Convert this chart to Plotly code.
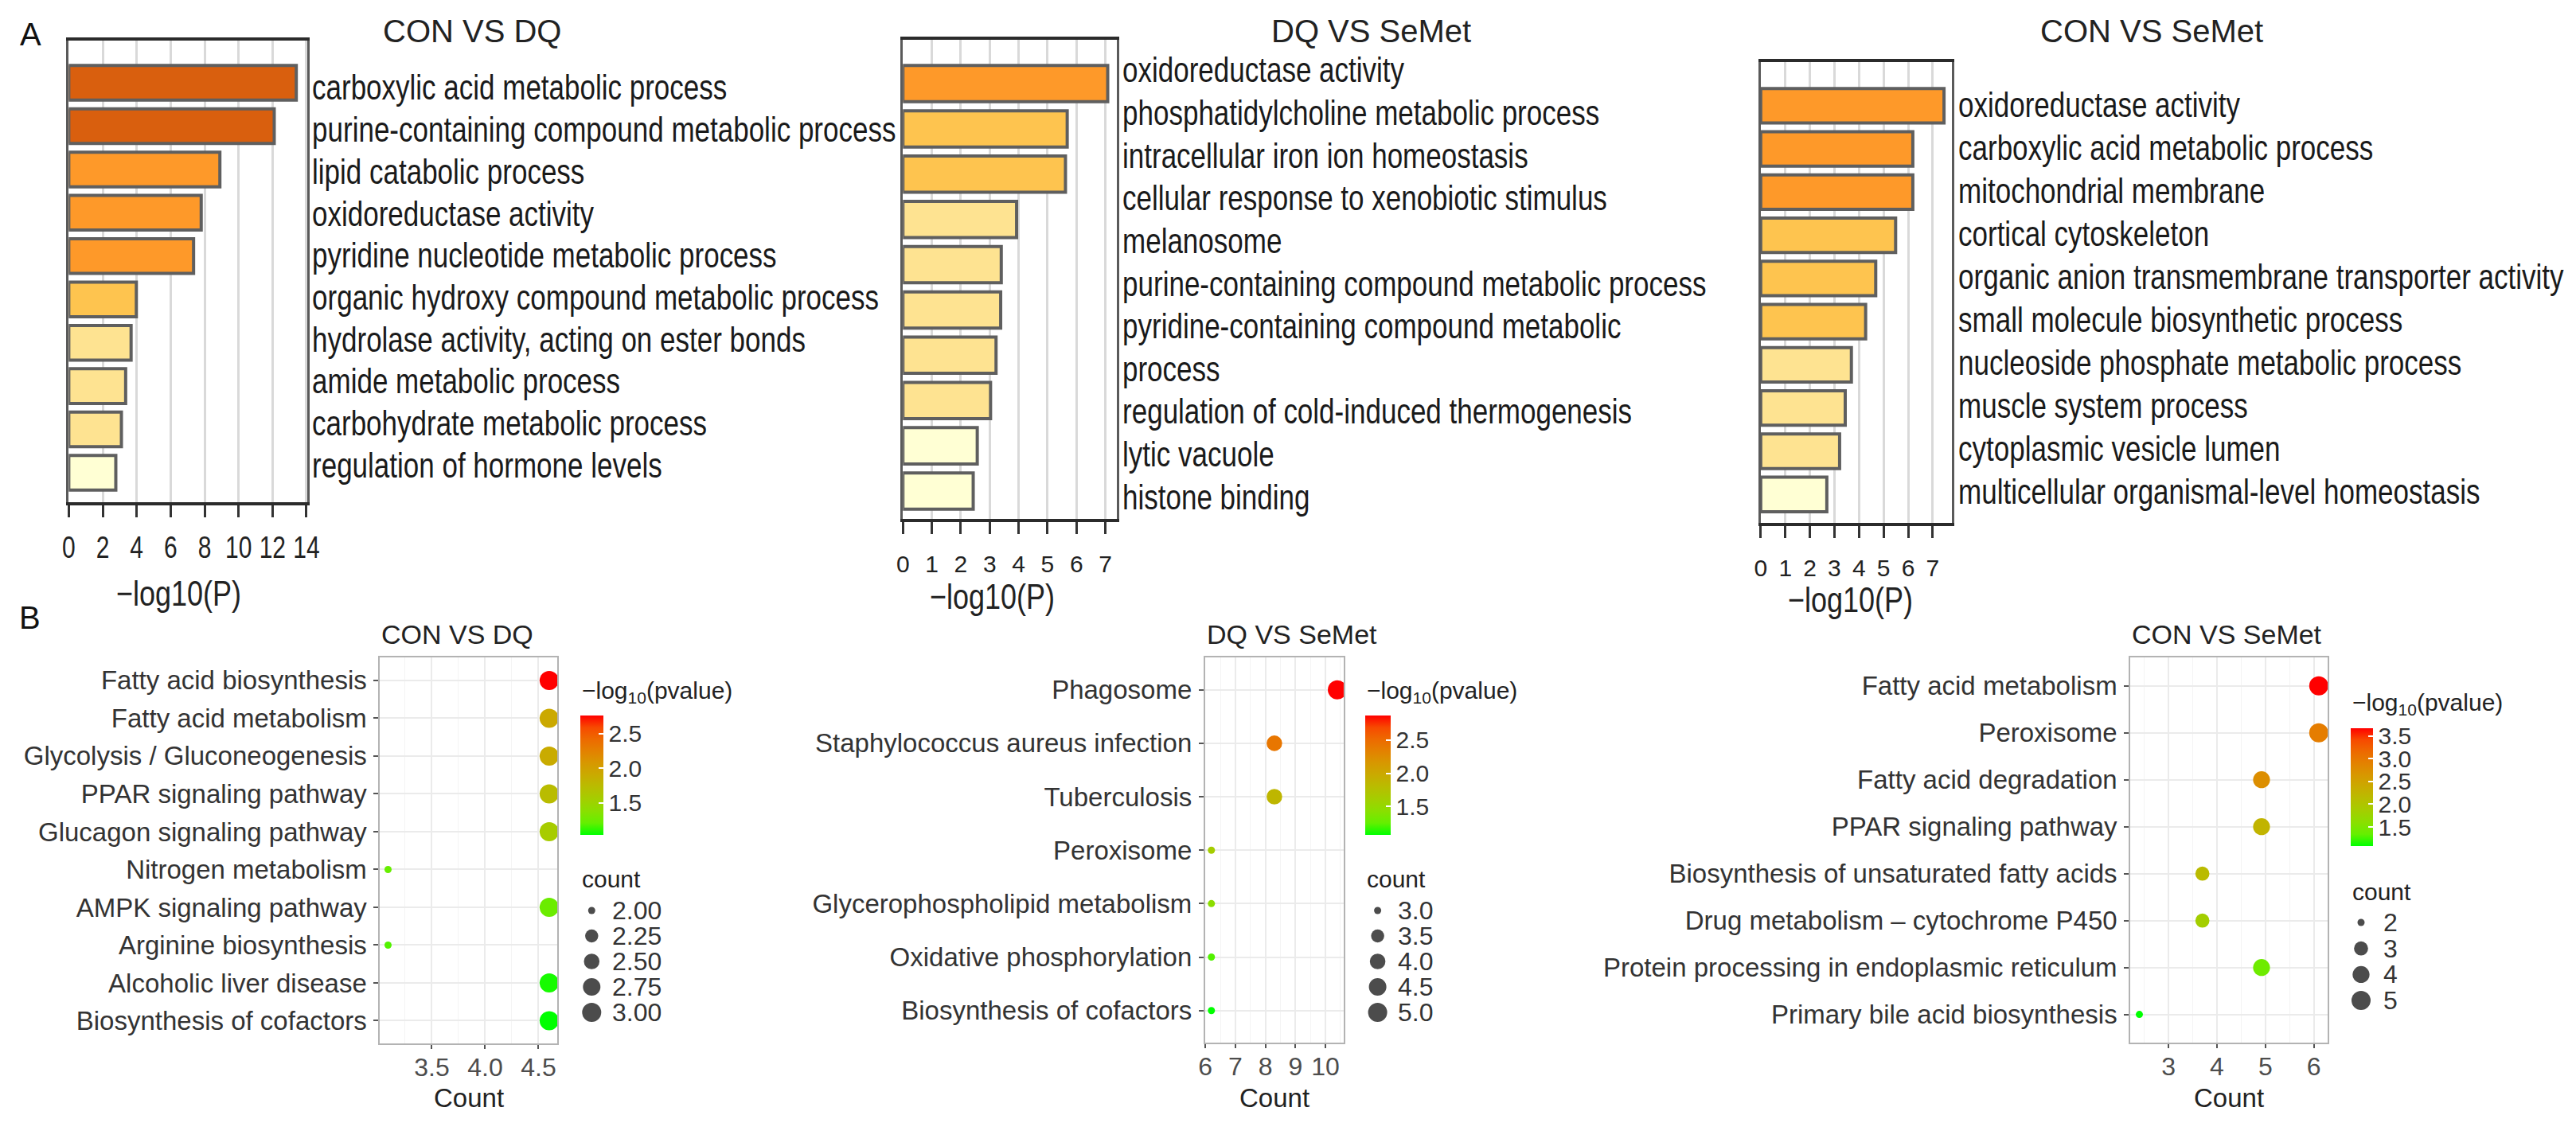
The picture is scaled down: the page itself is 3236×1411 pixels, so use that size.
import json
import numpy as np
import plotly.graph_objects as go

W, H = 3236, 1411
def px(x): return x / W
def py(y): return 1 - y / H

SANS = "Liberation Sans, Arial, sans-serif"

# ---------------- DATA ----------------
a1_title = "CON VS DQ"
a1_terms = ["carboxylic acid metabolic process", "purine-containing compound metabolic process",
            "lipid catabolic process", "oxidoreductase activity", "pyridine nucleotide metabolic process",
            "organic hydroxy compound metabolic process", "hydrolase activity, acting on ester bonds",
            "amide metabolic process", "carbohydrate metabolic process", "regulation of hormone levels"]
a1_vals = [13.4, 12.1, 8.9, 7.8, 7.35, 3.98, 3.67, 3.35, 3.1, 2.77]
a1_ticks = [0, 2, 4, 6, 8, 10, 12, 14]

a2_title = "DQ VS SeMet"
a2_terms = ["oxidoreductase activity", "phosphatidylcholine metabolic process", "intracellular iron ion homeostasis",
            "cellular response to xenobiotic stimulus", "melanosome",
            "purine-containing compound metabolic process", "pyridine-containing compound metabolic<br>process",
            "regulation of cold-induced thermogenesis", "lytic vacuole", "histone binding"]
a2_vals = [7.08, 5.68, 5.62, 3.93, 3.40, 3.38, 3.22, 3.03, 2.57, 2.43]
a2_ticks = [0, 1, 2, 3, 4, 5, 6, 7]

a3_title = "CON VS SeMet"
a3_terms = ["oxidoreductase activity", "carboxylic acid metabolic process", "mitochondrial membrane",
            "cortical cytoskeleton", "organic anion transmembrane transporter activity",
            "small molecule biosynthetic process", "nucleoside phosphate metabolic process",
            "muscle system process", "cytoplasmic vesicle lumen", "multicellular organismal-level homeostasis"]
a3_vals = [7.46, 6.19, 6.19, 5.49, 4.68, 4.27, 3.69, 3.44, 3.21, 2.69]
a3_ticks = [0, 1, 2, 3, 4, 5, 6, 7]

b1_title = "CON VS DQ"
b1_terms = ["Fatty acid biosynthesis", "Fatty acid metabolism", "Glycolysis / Gluconeogenesis",
            "PPAR signaling pathway", "Glucagon signaling pathway", "Nitrogen metabolism",
            "AMPK signaling pathway", "Arginine biosynthesis", "Alcoholic liver disease",
            "Biosynthesis of cofactors"]
b1_x = [4.6, 4.6, 4.6, 4.6, 4.6, 3.09, 4.6, 3.09, 4.6, 4.6]
b1_count = [3, 3, 3, 3, 3, 2, 3, 2, 3, 3]
b1_logp = [2.76, 1.92, 1.90, 1.74, 1.58, 1.22, 1.24, 1.18, 1.08, 1.04]
b1_xticks = [3.5, 4.0, 4.5]
b1_xticklabels = ["3.5", "4.0", "4.5"]
b1_cticks = [1.5, 2.0, 2.5]
b1_sticks = [2.00, 2.25, 2.50, 2.75, 3.00]
b1_slabels = ["2.00", "2.25", "2.50", "2.75", "3.00"]

b2_title = "DQ VS SeMet"
b2_terms = ["Phagosome", "Staphylococcus aureus infection", "Tuberculosis", "Peroxisome",
            "Glycerophospholipid metabolism", "Oxidative phosphorylation", "Biosynthesis of cofactors"]
b2_x = [10.4, 8.3, 8.3, 6.2, 6.2, 6.2, 6.2]
b2_count = [5, 4, 4, 3, 3, 3, 3]
b2_logp = [2.87, 2.42, 1.86, 1.62, 1.45, 1.22, 1.075]
b2_xticks = [6, 7, 8, 9, 10]
b2_xticklabels = ["6", "7", "8", "9", "10"]
b2_cticks = [1.5, 2.0, 2.5]
b2_sticks = [3.0, 3.5, 4.0, 4.5, 5.0]
b2_slabels = ["3.0", "3.5", "4.0", "4.5", "5.0"]

b3_title = "CON VS SeMet"
b3_terms = ["Fatty acid metabolism", "Peroxisome", "Fatty acid degradation", "PPAR signaling pathway",
            "Biosynthesis of unsaturated fatty acids", "Drug metabolism – cytochrome P450",
            "Protein processing in endoplasmic reticulum", "Primary bile acid biosynthesis"]
b3_x = [6.1, 6.1, 4.92, 4.92, 3.7, 3.7, 4.92, 2.4]
b3_count = [5, 5, 4, 4, 3, 3, 4, 2]
b3_logp = [3.67, 2.95, 2.75, 2.25, 2.15, 1.85, 1.40, 1.08]
b3_xticks = [3, 4, 5, 6]
b3_xticklabels = ["3", "4", "5", "6"]
b3_cticks = [1.5, 2.0, 2.5, 3.0, 3.5]
b3_sticks = [2, 3, 4, 5]
b3_slabels = ["2", "3", "4", "5"]

# ---------------- STYLES ----------------
c1, c2, c3, c4, c5 = "#D95F0E", "#FE9929", "#FEC44F", "#FEE391", "#FFFFD4"
a1_colors = [c1, c1, c2, c2, c2, c3, c4, c4, c4, c5]
a2_colors = [c2, c3, c3, c4, c4, c4, c4, c4, c5, c5]
a3_colors = [c2, c2, c2, c3, c3, c3, c4, c4, c4, c5]

# Lab interpolation green -> red (ggplot default gradient)
def _lin(c):
    c = np.asarray(c) / 255.0
    return np.where(c <= 0.04045, c / 12.92, ((c + 0.055) / 1.055) ** 2.4)
def _unlin(c):
    c = np.clip(c, 0, 1)
    return np.where(c <= 0.0031308, 12.92 * c, 1.055 * c ** (1 / 2.4) - 0.055)
_M = np.array([[0.4124564, 0.3575761, 0.1804375], [0.2126729, 0.7151522, 0.0721750], [0.0193339, 0.1191920, 0.9503041]])
_WP = np.array([0.95047, 1.0, 1.08883])
_d = 6 / 29
def _f(t): return np.where(t > _d ** 3, np.cbrt(t), t / (3 * _d ** 2) + 4 / 29)
def _finv(t): return np.where(t > _d, t ** 3, 3 * _d ** 2 * (t - 4 / 29))
def to_lab(rgb):
    xyz = _M @ _lin(rgb) / _WP
    fx, fy, fz = _f(xyz)
    return np.array([116 * fy - 16, 500 * (fx - fy), 200 * (fy - fz)])
def from_lab(lab):
    L, a, b = lab
    fy = (L + 16) / 116
    xyz = np.array([_finv(fy + a / 500), _finv(fy), _finv(fy - b / 200)]) * _WP
    rgb = _unlin(np.linalg.inv(_M) @ xyz)
    return "rgb(%d,%d,%d)" % tuple(np.round(rgb * 255).astype(int))
lab_lo, lab_hi = to_lab([0, 255, 0]), to_lab([255, 0, 0])
colorscale = [[t, from_lab(lab_lo + (lab_hi - lab_lo) * t)] for t in np.linspace(0, 1, 11)]

fig = go.Figure()
layout = {}
ann = []
stretch_ann = []   # annotation indices drawn vertically stretched (condensed-looking text)

def add_ann(d, stretch=False):
    if stretch:
        stretch_ann.append(len(ann))
    ann.append(d)

# ---------------- Panel A (bar charts) ----------------
A_specs = [
    (1, a1_terms, a1_vals, a1_colors, a1_ticks, a1_title, (78, 380), (51, 631), 14.05, (0.974, 0.68), (589, 39), (217, 745), (384, 110), 52.7),
    (2, a2_terms, a2_vals, a2_colors, a2_ticks, a2_title, (1134, 1405), (50, 652), 7.4, (0.967, 0.615), (1727, 39), (1247, 749), (1410, 88), 53.6),
    (3, a3_terms, a3_vals, a3_colors, a3_ticks, a3_title, (2220, 2462), (77.5, 657), 7.78, (1.02, 0.66), (2715, 39), (2334, 753), (2468, 131), 54.1),
]
for idx, terms, vals, cols, ticks, title, xd, yd, xmax, gaps, tpos, xlpos, lstart, lpitch in A_specs:
    n = len(vals)
    fig.add_trace(go.Bar(x=vals, y=list(range(n)), orientation="h", width=0.8,
                         marker=dict(color=cols, line=dict(color="#5f5f5f", width=4)),
                         xaxis="x%d" % idx, yaxis="y%d" % idx, showlegend=False))
    layout["xaxis%d" % idx] = dict(domain=[px(xd[0]), px(xd[1])], range=[0, xmax], anchor="y%d" % idx,
                                   tickvals=ticks, ticktext=[str(t) for t in ticks],
                                   showgrid=True, gridcolor="#D9D9D9", gridwidth=2.5, zeroline=False,
                                   showline=True, linecolor="#2b2b2b", linewidth=4, mirror=True,
                                   ticks="outside", ticklen=15, tickwidth=3, tickcolor="#333",
                                   ticklabelstandoff=12,
                                   tickfont=dict(family=SANS, size=30, color="#222"))
    layout["yaxis%d" % idx] = dict(domain=[py(yd[1]), py(yd[0])], range=[n - 1 + gaps[1], -gaps[0]],
                                   anchor="x%d" % idx, showticklabels=False, showgrid=False, zeroline=False,
                                   showline=True, linecolor="#5a5a5a", linewidth=3, mirror=True, ticks="")
    add_ann(dict(text=title, x=px(tpos[0]), y=py(tpos[1]), xref="paper", yref="paper",
                 xanchor="center", yanchor="middle", showarrow=False,
                 font=dict(family=SANS, size=40, color="#222")))
    add_ann(dict(text="−log10(P)", x=px(xlpos[0]), y=py(xlpos[1]), xref="paper", yref="paper",
                 xanchor="center", yanchor="middle", showarrow=False,
                 font=dict(family=SANS, size=36, color="#222")), stretch=True)
    lines = []
    for t in terms:
        lines.extend(t.split("<br>"))
    for k, line in enumerate(lines):
        add_ann(dict(text=line, x=px(lstart[0]), y=py(lstart[1] + k * lpitch), xref="paper", yref="paper",
                     xanchor="left", yanchor="middle", showarrow=False,
                     font=dict(family=SANS, size=35, color="#1a1a1a")), stretch=True)

# ---------------- Panel B (dot plots) ----------------
def diam(v, lo, hi, dmin=9.0, dmax=24.0):
    t = (np.asarray(v, float) - lo) / (hi - lo)
    return dmin + (dmax - dmin) * np.sqrt(np.clip(t, 0, 1))

B_specs = [
    (4, 7, b1_terms, b1_x, b1_count, b1_logp, b1_xticks, b1_xticklabels, 0.25, b1_cticks, b1_sticks, b1_slabels, b1_title,
     (472, 696.4), (826.4, 1311), (726, 899, 150, 28.5), 869, 1104.6, (740, 764, 1144, 32)),
    (5, 8, b2_terms, b2_x, b2_count, b2_logp, b2_xticks, b2_xticklabels, 0.5, b2_cticks, b2_sticks, b2_slabels, b2_title,
     (1516.6, 1692), (826.4, 1310), (1719, 899, 150, 32), 869, 1104.6, (1735, 1759, 1144, 32)),
    (6, 9, b3_terms, b3_x, b3_count, b3_logp, b3_xticks, b3_xticklabels, 0.5, b3_cticks, b3_sticks, b3_slabels, b3_title,
     (2688, 2937.8), (826.4, 1310), (2966.7, 915, 148, 28), 884.7, 1120.5, (2980, 3006, 1159, 32.7)),
]
for (idx, li, terms, xs, cnt, lp, xt, xtl, minor, ct, st, sl, title, xd, yd, cb, cty, sty, lg) in B_specs:
    n = len(terms)
    smin, smax = min(st), max(st)
    fig.add_trace(go.Scatter(
        x=xs, y=terms, mode="markers", xaxis="x%d" % idx, yaxis="y%d" % idx, showlegend=False,
        marker=dict(size=diam(cnt, smin, smax), color=lp, colorscale=colorscale,
                    cmin=min(lp), cmax=max(lp), line=dict(width=0), opacity=1,
                    showscale=True,
                    colorbar=dict(x=px(cb[0]), xanchor="left", y=py(cb[1]), yanchor="top",
                                  len=cb[2], lenmode="pixels", thickness=cb[3], thicknessmode="pixels",
                                  xpad=0, ypad=0, outlinewidth=0,
                                  tickvals=ct, ticktext=["%.1f" % v for v in ct],
                                  ticks="inside", ticklen=6, tickwidth=2, tickcolor="white",
                                  tickfont=dict(family=SANS, size=30, color="#333")))))
    lo, hi = min(xs), max(xs)
    r = hi - lo
    layout["xaxis%d" % idx] = dict(domain=[px(xd[0]), px(xd[1])], range=[lo - 0.05 * r, hi + 0.05 * r],
                                   anchor="y%d" % idx, tickvals=xt, ticktext=xtl,
                                   showgrid=True, gridcolor="#EBEBEB", gridwidth=2,
                                   minor=dict(dtick=minor, tick0=0, showgrid=True, gridcolor="#F4F4F4", gridwidth=1, ticks=""),
                                   zeroline=False, showline=True, linecolor="#B3B3B3", linewidth=2, mirror=True,
                                   ticks="outside", ticklen=5, tickwidth=2, tickcolor="#555",
                                   ticklabelstandoff=-4,
                                   tickfont=dict(family=SANS, size=32, color="#4D4D4D"))
    layout["yaxis%d" % idx] = dict(domain=[py(yd[1]), py(yd[0])], anchor="x%d" % idx,
                                   type="category", categoryorder="array", categoryarray=list(reversed(terms)),
                                   range=[-0.6, n - 1 + 0.6],
                                   showgrid=True, gridcolor="#EBEBEB", gridwidth=2, zeroline=False,
                                   showline=True, linecolor="#B3B3B3", linewidth=2, mirror=True,
                                   ticks="outside", ticklen=6, tickwidth=2, tickcolor="#555",
                                   ticklabelstandoff=2,
                                   tickfont=dict(family=SANS, size=33, color="#333"))
    add_ann(dict(text=title, x=px(xd[0]), y=py(797), xref="paper", yref="paper",
                 xanchor="left", yanchor="middle", showarrow=False,
                 font=dict(family=SANS, size=34, color="#222")))
    add_ann(dict(text="Count", x=px((xd[0] + xd[1]) / 2), y=py(1379), xref="paper", yref="paper",
                 xanchor="center", yanchor="middle", showarrow=False,
                 font=dict(family=SANS, size=33, color="#222")))
    add_ann(dict(text="−log<sub>10</sub>(pvalue)", x=px(cb[0]), y=py(cty), xref="paper", yref="paper",
                 xanchor="left", yanchor="middle", showarrow=False,
                 font=dict(family=SANS, size=30, color="#222")))
    add_ann(dict(text="count", x=px(cb[0]), y=py(sty), xref="paper", yref="paper",
                 xanchor="left", yanchor="middle", showarrow=False,
                 font=dict(family=SANS, size=30, color="#222")))
    # size legend
    dotx, labx, ly0, lpitch = lg
    m = len(st)
    fig.add_trace(go.Scatter(x=[0] * m, y=list(range(m)), mode="markers", xaxis="x%d" % li, yaxis="y%d" % li,
                             showlegend=False, marker=dict(size=diam(st, smin, smax), color="black", line=dict(width=0))))
    layout["xaxis%d" % li] = dict(domain=[px(dotx - 20), px(dotx + 20)], range=[-20, 20], anchor="y%d" % li,
                                  visible=False, showticklabels=False, showgrid=False, zeroline=False)
    layout["yaxis%d" % li] = dict(domain=[py(ly0 + (m - 0.5) * lpitch), py(ly0 - 0.5 * lpitch)],
                                  range=[m - 0.5, -0.5], anchor="x%d" % li,
                                  visible=False, showticklabels=False, showgrid=False, zeroline=False)
    for k, lab in enumerate(sl):
        add_ann(dict(text=lab, x=px(labx), y=k, xref="paper", yref="y%d" % li,
                     xanchor="left", yanchor="middle", showarrow=False,
                     font=dict(family=SANS, size=32, color="#333")))

add_ann(dict(text="A", x=px(30), y=py(43), xref="paper", yref="paper", xanchor="center", yanchor="middle",
             showarrow=False, font=dict(family=SANS, size=40, color="#111")))
add_ann(dict(text="B", x=px(29), y=py(776), xref="paper", yref="paper", xanchor="center", yanchor="middle",
             showarrow=False, font=dict(family=SANS, size=40, color="#111")))

fig.update_layout(width=W, height=H, margin=dict(l=0, r=0, t=0, b=0), autosize=False,
                  paper_bgcolor="white", plot_bgcolor="white", hovermode=False,
                  font=dict(family=SANS, color="#222"), annotations=ann, **layout)

# The reference's panel-A text is a tall, horizontally condensed face; emulate it by
# stretching those texts vertically about their own centres.
post = """
document.body.style.margin='0';document.body.style.overflow='hidden';
(function(){
  var idx = %s;
  function st(el, s){ el.style.transformBox='fill-box'; el.style.transformOrigin='center'; el.style.transform='scaleY('+s+')'; }
  idx.forEach(function(i){
    document.querySelectorAll('g.annotation[data-index="'+i+'"] text').forEach(function(t){ st(t, 1.25); });
  });
  ['xy','x2y2','x3y3'].forEach(function(sp){
    document.querySelectorAll('g.subplot.'+sp+' .xaxislayer-above g.xtick').forEach(function(g){ st(g, 1.3); });
  });
})();
""" % json.dumps(stretch_ann)

fig.write_html("out.html", config={"displayModeBar": False}, post_script=post)
